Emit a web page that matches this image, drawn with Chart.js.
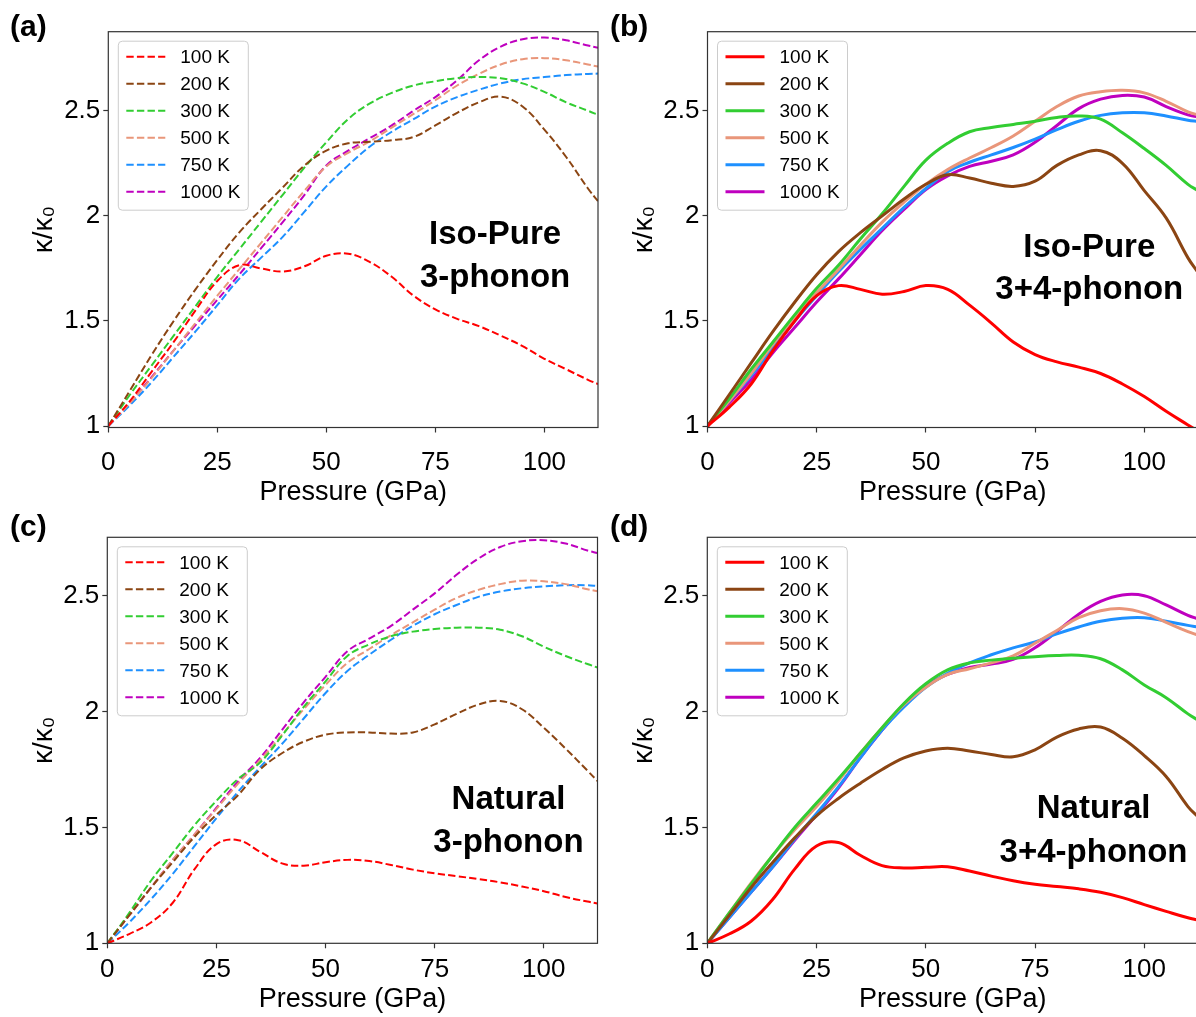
<!DOCTYPE html>
<html>
<head>
<meta charset="utf-8">
<script src="https://cdn.jsdelivr.net/npm/chart.js@4.4.1/dist/chart.umd.min.js"></script>
<style>
html, body { margin: 0; padding: 0; background: #fff; overflow: hidden; width: 1196px; height: 1017px; }
canvas { position: absolute; }
</style>
</head>
<body>
<canvas id="panelA" width="600" height="509" style="left:0;top:0"></canvas>
<canvas id="panelB" width="600" height="509" style="left:600px;top:0"></canvas>
<canvas id="panelC" width="600" height="509" style="left:0;top:508px"></canvas>
<canvas id="panelD" width="600" height="509" style="left:600px;top:508px"></canvas>
<script>
// pressure grid (GPa), shared by every curve
var pressure = [0, 5, 10, 15, 20, 25, 30, 35, 40, 45, 50, 55, 60, 65, 70, 75, 80, 85, 90, 95, 100, 105, 110, 112.3]
var temps = ['100 K', '200 K', '300 K', '500 K', '750 K', '1000 K']
var xTicks = [0, 25, 50, 75, 100]
var yTicks = [1, 1.5, 2, 2.5]

// (a) Iso-Pure, 3-phonon
var pure3_100 = [1.00, 1.12, 1.26, 1.40, 1.55, 1.69, 1.765, 1.75, 1.735, 1.76, 1.81, 1.82, 1.78, 1.71, 1.62, 1.555, 1.51, 1.475, 1.43, 1.38, 1.32, 1.27, 1.22, 1.20]
var pure3_200 = [1.00, 1.17, 1.34, 1.50, 1.65, 1.79, 1.92, 2.03, 2.135, 2.24, 2.31, 2.345, 2.352, 2.36, 2.375, 2.43, 2.49, 2.54, 2.567, 2.52, 2.41, 2.28, 2.13, 2.07]
var pure3_300 = [1.00, 1.15, 1.29, 1.43, 1.57, 1.71, 1.84, 1.97, 2.10, 2.23, 2.35, 2.46, 2.535, 2.585, 2.62, 2.64, 2.655, 2.66, 2.655, 2.63, 2.59, 2.54, 2.50, 2.48]
var pure3_500 = [1.00, 1.11, 1.23, 1.36, 1.49, 1.62, 1.745, 1.87, 1.995, 2.12, 2.235, 2.30, 2.355, 2.42, 2.485, 2.55, 2.62, 2.675, 2.72, 2.745, 2.75, 2.74, 2.72, 2.71]
var pure3_750 = [1.00, 1.10, 1.21, 1.33, 1.45, 1.575, 1.70, 1.80, 1.90, 2.02, 2.14, 2.24, 2.33, 2.40, 2.46, 2.52, 2.565, 2.60, 2.63, 2.65, 2.66, 2.67, 2.675, 2.677]
var pure3_1000 = [1.00, 1.11, 1.235, 1.36, 1.48, 1.60, 1.72, 1.845, 1.97, 2.10, 2.24, 2.31, 2.37, 2.43, 2.50, 2.565, 2.645, 2.74, 2.805, 2.84, 2.848, 2.835, 2.81, 2.80]

// (b) Iso-Pure, 3+4-phonon
var pure34_100 = [1.00, 1.09, 1.20, 1.36, 1.50, 1.62, 1.668, 1.65, 1.627, 1.64, 1.668, 1.65, 1.575, 1.49, 1.40, 1.34, 1.305, 1.28, 1.25, 1.20, 1.14, 1.07, 1.005, 0.975]
var pure34_200 = [1.00, 1.15, 1.30, 1.45, 1.59, 1.72, 1.83, 1.92, 2.00, 2.08, 2.15, 2.195, 2.18, 2.155, 2.14, 2.165, 2.24, 2.29, 2.31, 2.25, 2.12, 1.99, 1.80, 1.73]
var pure34_300 = [1.00, 1.13, 1.27, 1.40, 1.53, 1.655, 1.765, 1.89, 2.01, 2.14, 2.265, 2.345, 2.40, 2.42, 2.435, 2.45, 2.468, 2.475, 2.46, 2.395, 2.32, 2.24, 2.15, 2.12]
var pure34_500 = [1.00, 1.12, 1.25, 1.39, 1.52, 1.635, 1.745, 1.86, 1.97, 2.065, 2.15, 2.22, 2.275, 2.325, 2.38, 2.45, 2.52, 2.57, 2.59, 2.597, 2.585, 2.545, 2.495, 2.48]
var pure34_750 = [1.00, 1.12, 1.24, 1.37, 1.50, 1.62, 1.735, 1.84, 1.94, 2.04, 2.13, 2.21, 2.255, 2.29, 2.325, 2.365, 2.41, 2.45, 2.478, 2.49, 2.49, 2.475, 2.455, 2.45]
var pure34_1000 = [1.00, 1.11, 1.22, 1.35, 1.47, 1.59, 1.70, 1.815, 1.93, 2.03, 2.125, 2.19, 2.235, 2.26, 2.29, 2.35, 2.43, 2.51, 2.555, 2.573, 2.565, 2.52, 2.48, 2.47]

// (c) Natural, 3-phonon
var nat3_100 = [1.00, 1.04, 1.09, 1.175, 1.32, 1.428, 1.445, 1.395, 1.345, 1.335, 1.35, 1.36, 1.355, 1.338, 1.318, 1.302, 1.29, 1.277, 1.263, 1.245, 1.225, 1.20, 1.18, 1.172]
var nat3_200 = [1.00, 1.12, 1.24, 1.35, 1.46, 1.555, 1.64, 1.75, 1.82, 1.87, 1.90, 1.91, 1.91, 1.905, 1.91, 1.945, 1.99, 2.03, 2.046, 2.01, 1.93, 1.84, 1.745, 1.70]
var nat3_300 = [1.00, 1.13, 1.27, 1.39, 1.51, 1.615, 1.71, 1.78, 1.895, 2.02, 2.13, 2.24, 2.29, 2.325, 2.345, 2.356, 2.362, 2.362, 2.353, 2.325, 2.28, 2.24, 2.205, 2.19]
var nat3_500 = [1.00, 1.12, 1.24, 1.36, 1.47, 1.58, 1.69, 1.79, 1.90, 2.01, 2.115, 2.21, 2.27, 2.33, 2.385, 2.44, 2.49, 2.525, 2.55, 2.565, 2.562, 2.55, 2.528, 2.519]
var nat3_750 = [1.00, 1.09, 1.19, 1.30, 1.42, 1.54, 1.655, 1.76, 1.86, 1.97, 2.08, 2.175, 2.245, 2.31, 2.37, 2.42, 2.46, 2.495, 2.518, 2.532, 2.54, 2.545, 2.545, 2.542]
var nat3_1000 = [1.00, 1.12, 1.24, 1.36, 1.47, 1.585, 1.70, 1.80, 1.92, 2.04, 2.15, 2.26, 2.315, 2.37, 2.44, 2.51, 2.59, 2.66, 2.71, 2.735, 2.739, 2.725, 2.695, 2.684]

// (d) Natural, 3+4-phonon
var nat34_100 = [1.00, 1.04, 1.095, 1.19, 1.32, 1.42, 1.435, 1.38, 1.335, 1.325, 1.328, 1.33, 1.312, 1.29, 1.27, 1.255, 1.245, 1.235, 1.22, 1.197, 1.167, 1.138, 1.11, 1.10]
var nat34_200 = [1.00, 1.12, 1.24, 1.35, 1.455, 1.55, 1.625, 1.69, 1.75, 1.80, 1.83, 1.842, 1.83, 1.815, 1.805, 1.835, 1.89, 1.925, 1.933, 1.885, 1.81, 1.72, 1.59, 1.546]
var nat34_300 = [1.00, 1.13, 1.255, 1.38, 1.50, 1.605, 1.71, 1.82, 1.93, 2.035, 2.12, 2.18, 2.21, 2.222, 2.23, 2.237, 2.242, 2.243, 2.228, 2.18, 2.115, 2.06, 1.99, 1.963]
var nat34_500 = [1.00, 1.13, 1.26, 1.38, 1.49, 1.59, 1.70, 1.82, 1.93, 2.03, 2.105, 2.16, 2.185, 2.21, 2.24, 2.295, 2.35, 2.405, 2.435, 2.444, 2.425, 2.385, 2.345, 2.33]
var nat34_750 = [1.00, 1.11, 1.22, 1.33, 1.45, 1.56, 1.675, 1.80, 1.92, 2.02, 2.105, 2.165, 2.21, 2.245, 2.275, 2.30, 2.335, 2.365, 2.39, 2.403, 2.405, 2.39, 2.372, 2.365]
var nat34_1000 = [1.00, 1.11, 1.22, 1.33, 1.445, 1.555, 1.67, 1.80, 1.92, 2.03, 2.11, 2.16, 2.19, 2.205, 2.225, 2.275, 2.345, 2.42, 2.475, 2.503, 2.50, 2.46, 2.415, 2.40]

// matplotlib named colours: red, saddlebrown, limegreen, darksalmon, dodgerblue, m
var lineColors = ['#ff0000', '#8b4513', '#32cd32', '#e9967a', '#1e90ff', '#bf00bf']
var FONT = '"Liberation Sans", Arial, Helvetica, sans-serif'

// box around the axes, like matplotlib spines
var framePlugin = {
    id: 'frame',
    afterDatasetsDraw: function(chart) {
        var a = chart.chartArea, ctx = chart.ctx
        ctx.save()
        ctx.strokeStyle = '#333'
        ctx.lineWidth = 1.2
        ctx.strokeRect(a.left, a.top, a.right - a.left, a.bottom - a.top)
        ctx.restore()
    }
}

// legend inside the axes, upper left
var insideLegend = {
    id: 'insideLegend',
    afterDatasetsDraw: function(chart) {
        var a = chart.chartArea, ctx = chart.ctx
        var bx = a.left + 10, by = a.top + 9.5, bw = 130, bh = 169, r = 4
        ctx.save()
        ctx.beginPath()
        ctx.moveTo(bx + r, by)
        ctx.arcTo(bx + bw, by, bx + bw, by + bh, r)
        ctx.arcTo(bx + bw, by + bh, bx, by + bh, r)
        ctx.arcTo(bx, by + bh, bx, by, r)
        ctx.arcTo(bx, by, bx + bw, by, r)
        ctx.closePath()
        ctx.fillStyle = 'rgba(255,255,255,0.85)'
        ctx.fill()
        ctx.strokeStyle = '#cccccc'
        ctx.lineWidth = 1
        ctx.stroke()
        chart.data.datasets.forEach(function(ds, i) {
            var y = a.top + 25 + i * 27
            ctx.strokeStyle = ds.borderColor
            ctx.lineWidth = ds.borderWidth
            ctx.setLineDash(ds.borderDash || [])
            ctx.beginPath()
            ctx.moveTo(a.left + 18, y)
            ctx.lineTo(a.left + 57, y)
            ctx.stroke()
            ctx.setLineDash([])
            ctx.fillStyle = '#000'
            ctx.font = '19px ' + FONT
            ctx.textAlign = 'left'
            ctx.textBaseline = 'middle'
            ctx.fillText(ds.label, a.left + 72, y + 1)
        })
        ctx.restore()
    }
}

// bold annotation in data coordinates, plus the (a)/(b) tag
var notePlugin = {
    id: 'note',
    afterDraw: function(chart, args, opts) {
        var ctx = chart.ctx
        var xs = chart.scales.x, ys = chart.scales.y
        ctx.save()
        ctx.fillStyle = '#000'
        ctx.font = 'bold 33px ' + FONT
        ctx.textAlign = 'center'
        ctx.textBaseline = 'alphabetic'
        opts.lines.forEach(function(t, i) {
            ctx.fillText(t, xs.getPixelForValue(opts.x), ys.getPixelForValue(opts.y[i]))
        })
        ctx.font = 'bold 30px ' + FONT
        ctx.textAlign = 'left'
        ctx.fillText(opts.tag, 10, opts.tagY)
        ctx.restore()
    }
}

function makePanel(id, series, dashed, yMax, box, note) {
    var datasets = series.map(function(vals, i) {
        return {
            label: temps[i],
            data: vals.map(function(v, k) { return { x: pressure[k], y: v } }),
            borderColor: lineColors[i],
            borderWidth: dashed ? 2 : 3,
            borderDash: dashed ? [7.4, 3.2] : [],
            pointRadius: 0,
            tension: 0.4,
            fill: false,
            clip: 0
        }
    })
    return new Chart(document.getElementById(id), {
        type: 'line',
        data: { datasets: datasets },
        options: {
            responsive: false,
            animation: false,
            layout: { padding: { left: 0, top: box.top, right: box.right, bottom: 0 } },
            plugins: { legend: { display: false }, tooltip: { enabled: false }, note: note },
            scales: {
                x: {
                    type: 'linear', min: 0, max: 112.3,
                    afterBuildTicks: function(s) { s.ticks = xTicks.map(function(v) { return { value: v } }) },
                    afterFit: function(s) { s.height = box.xh },
                    grid: { drawOnChartArea: false, drawTicks: true, tickLength: 5, color: '#333', tickWidth: 1.2 },
                    border: { display: false },
                    ticks: { color: '#000', font: { family: FONT, size: 26 }, padding: box.tickPad, maxRotation: 0,
                        callback: function(v) { return String(v) } },
                    title: { display: true, text: 'Pressure (GPa)', color: '#000', font: { family: FONT, size: 27 }, padding: { top: 0, bottom: box.titlePad } }
                },
                y: {
                    type: 'linear', min: box.yMin, max: yMax,
                    afterBuildTicks: function(s) { s.ticks = yTicks.map(function(v) { return { value: v } }) },
                    afterFit: function(s) { s.width = box.yw },
                    grid: { drawOnChartArea: false, drawTicks: true, tickLength: 5, color: '#333', tickWidth: 1.2 },
                    border: { display: false },
                    ticks: { color: '#000', font: { family: FONT, size: 26 }, padding: 3,
                        callback: function(v) { return String(v) } },
                    title: { display: true, text: 'κ/κ₀', color: '#000', font: { family: FONT, size: 28 }, padding: { top: 27, bottom: 0 } }
                }
            }
        },
        plugins: [framePlugin, insideLegend, notePlugin]
    })
}

var topBox = { top: 31.7, right: 2, xh: 81.5, yw: 108.3, yMin: 0.993, tickPad: 15, titlePad: 0 }
var bottomBox = { top: 29.3, right: 2.5, xh: 73.7, yw: 107.3, yMin: 1.0, tickPad: 6, titlePad: 1 }

makePanel('panelA', [pure3_100, pure3_200, pure3_300, pure3_500, pure3_750, pure3_1000], true, 2.876,
    topBox, { lines: ['Iso-Pure', '3-phonon'], x: 88.7, y: [1.865, 1.663], tag: '(a)', tagY: 36 })
makePanel('panelB', [pure34_100, pure34_200, pure34_300, pure34_500, pure34_750, pure34_1000], false, 2.876,
    { top: 31.7, right: 2, xh: 81.5, yw: 107.5, yMin: 0.993, tickPad: 15, titlePad: 0 },
    { lines: ['Iso-Pure', '3+4-phonon'], x: 87.4, y: [1.803, 1.605], tag: '(b)', tagY: 36 })
makePanel('panelC', [nat3_100, nat3_200, nat3_300, nat3_500, nat3_750, nat3_1000], true, 2.752,
    bottomBox, { lines: ['Natural', '3-phonon'], x: 91.9, y: [1.578, 1.395], tag: '(c)', tagY: 28 })
makePanel('panelD', [nat34_100, nat34_200, nat34_300, nat34_500, nat34_750, nat34_1000], false, 2.752,
    { top: 29.3, right: 2, xh: 73.7, yw: 107.3, yMin: 1.0, tickPad: 6, titlePad: 1 },
    { lines: ['Natural', '3+4-phonon'], x: 88.4, y: [1.539, 1.352], tag: '(d)', tagY: 28 })
</script>
</body>
</html>
